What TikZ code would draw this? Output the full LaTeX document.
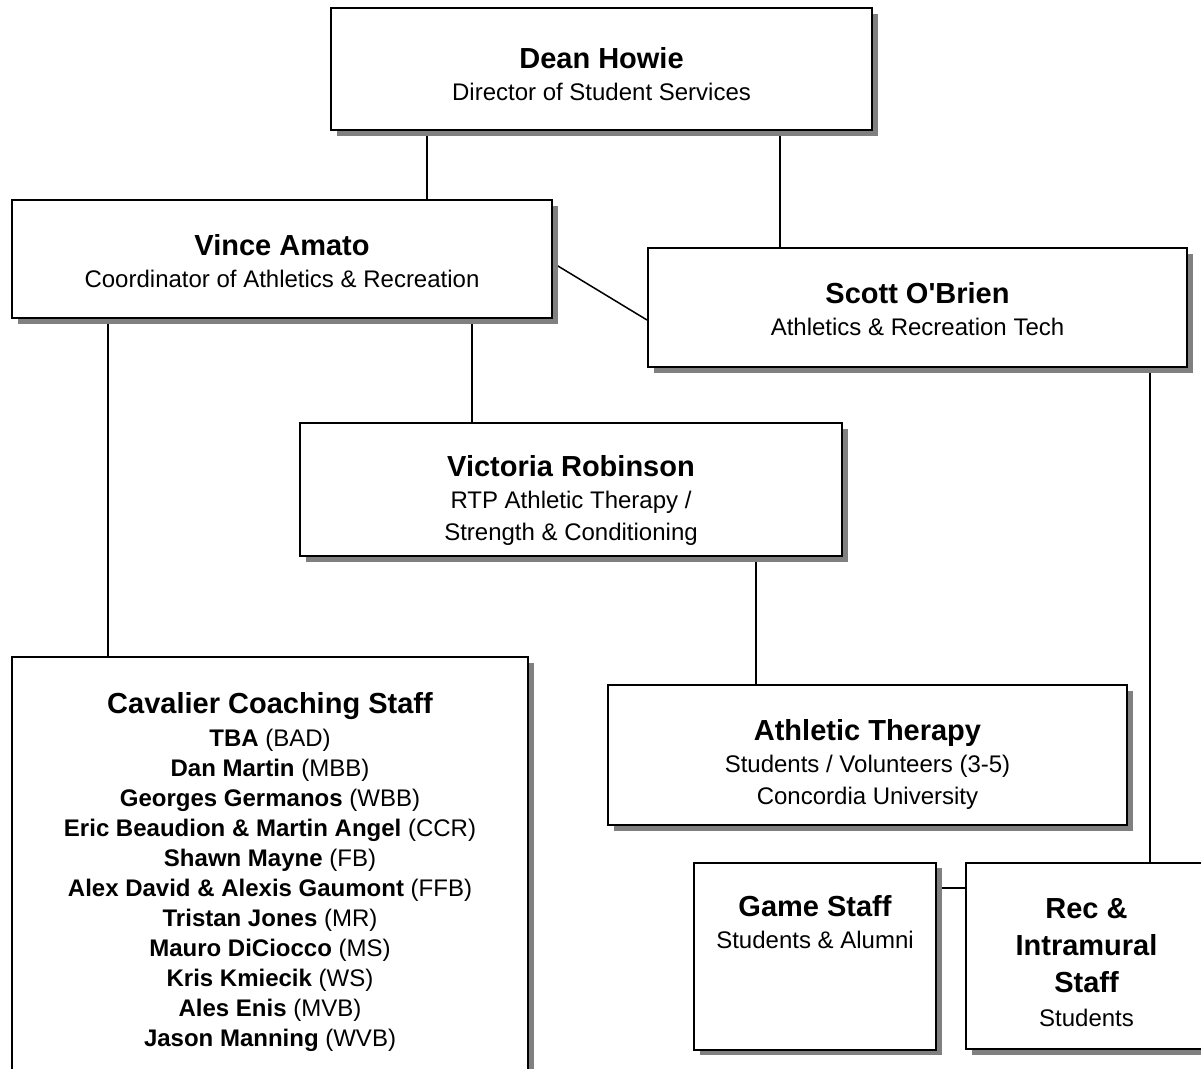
\documentclass[tikz,border=0pt]{standalone}
\usepackage{fontspec}
\setmainfont{Liberation Sans}
\usetikzlibrary{shadows, backgrounds}

% bold heading line; the optional value pushes the box text down
\newcommand{\head}[2][0pt]{\raisebox{0pt}[\dimexpr 21pt+2\dimexpr #1\relax\relax]{\fontsize{29}{35}\selectfont\bfseries #2}}

\begin{document}
\begin{tikzpicture}[
  x=1pt, y=-1pt,
  staff/.style={rectangle, draw=black, line width=2pt, fill=white, align=center, inner sep=0pt,
    font=\fontsize{24}{32}\selectfont,
    drop shadow={shadow xshift=5.5pt, shadow yshift=-5.5pt, fill=gray, opacity=1}},
  link/.style={draw, line width=1.5pt}
]
  \useasboundingbox (0,0) rectangle (1201,1068);

  \node [staff, minimum width=541, minimum height=122] (dean) at (601.5,69) {\head[5pt]{Dean Howie}\\Director of Student Services};
  \node [staff, minimum width=540, minimum height=118] (vince) at (282,259) {\head[2pt]{Vince Amato}\\Coordinator of Athletics \& Recreation};
  \node [staff, minimum width=539, minimum height=119] (scott) at (917.5,307.5) {\head[2pt]{Scott O\textquotesingle Brien}\\Athletics \& Recreation Tech};
  \node [staff, minimum width=542, minimum height=133] (victoria) at (571,489.5) {\head[11pt]{Victoria Robinson}\\RTP Athletic Therapy /\\Strength \& Conditioning};
  \node [staff, minimum width=519, minimum height=140] (athletic) at (867.5,755) {\head[9pt]{Athletic Therapy}\\Students / Volunteers (3-5)\\Concordia University};

  \node [staff, minimum width=516, minimum height=423, font=\fontsize{24}{30}\selectfont] (coaching) at (270,868.5) {\head[4pt]{Cavalier Coaching Staff}\\[3pt]
    \textbf{TBA} (BAD)\\
    \textbf{Dan Martin} (MBB)\\
    \textbf{Georges Germanos} (WBB)\\
    \textbf{Eric Beaudion \& Martin Angel} (CCR)\\
    \textbf{Shawn Mayne} (FB)\\
    \textbf{Alex David \& Alexis Gaumont} (FFB)\\
    \textbf{Tristan Jones} (MR)\\
    \textbf{Mauro DiCiocco} (MS)\\
    \textbf{Kris Kmiecik} (WS)\\
    \textbf{Ales Enis} (MVB)\\
    \textbf{Jason Manning} (WVB)};

  \node [staff, minimum width=242, minimum height=187] (game) at (815,956) {\head[3pt]{Game Staff}\\Students \& Alumni\\\strut\\\strut};
  \node [staff, minimum width=241, minimum height=186] (rec) at (1086.5,956) {\head[6pt]{Rec \&}\\[5pt]\head{Intramural}\\[5pt]\head{Staff}\\[2pt]Students};

  \begin{scope}[on background layer]
    \draw [link] ([xshift=-174.5pt]dean.south) -- ([xshift=145pt]vince.north);
    \draw [link] ([xshift=178.5pt]dean.south) -- ([xshift=-137.5pt]scott.north);
    \draw [link] ([yshift=-4pt]vince.east) -- ([yshift=-12.5pt]scott.west);
    \draw [link] ([xshift=-174pt]vince.south) -- ([xshift=-162pt]coaching.north);
    \draw [link] ([xshift=190pt]vince.south) -- ([xshift=-99pt]victoria.north);
    \draw [link] ([xshift=185pt]victoria.south) -- ([xshift=-111.5pt]athletic.north);
    \draw [link] ([xshift=232.5pt]scott.south) -- ([xshift=63.5pt]rec.north);
    \draw [link] ([yshift=68pt]game.east) -- ([yshift=68pt]rec.west);
  \end{scope}
\end{tikzpicture}
\end{document}
